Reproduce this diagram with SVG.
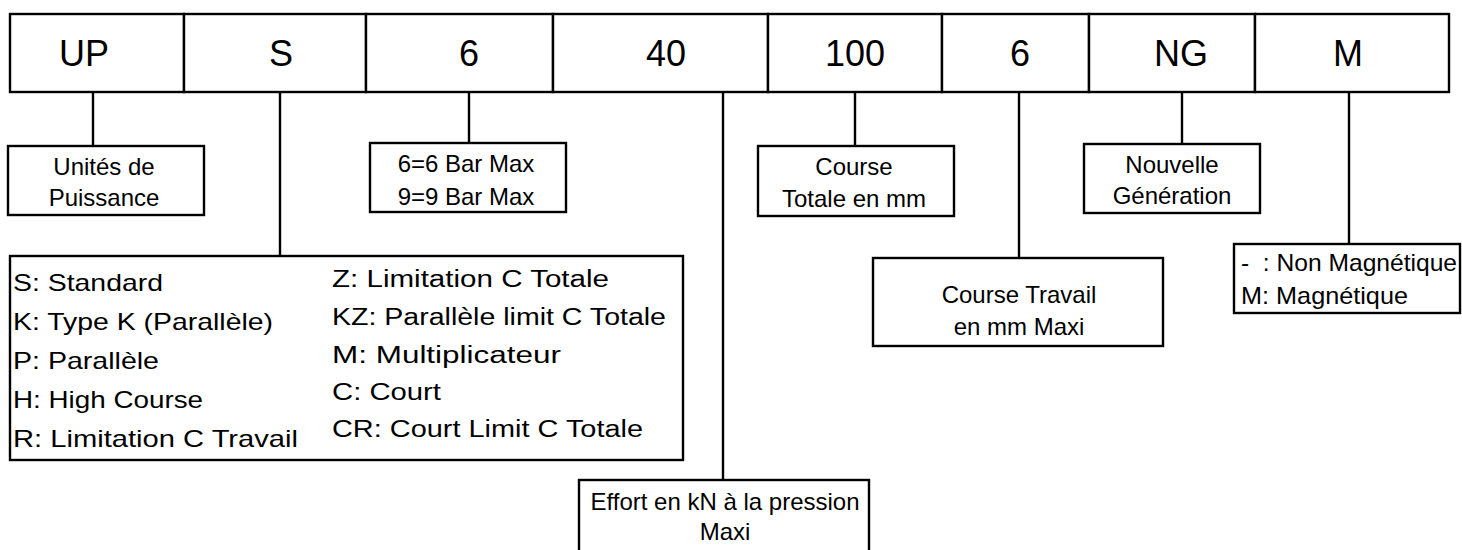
<svg xmlns="http://www.w3.org/2000/svg" width="1462" height="550" viewBox="0 0 1462 550">
<style>
.box{fill:#fff;stroke:#000;stroke-width:2.4}
text{font-family:"Liberation Sans",Arial,sans-serif;fill:#000}
.big{font-size:36px;text-anchor:middle}
.lbl{font-size:24px;text-anchor:middle}
.opt{font-size:24px}
.opt2{font-size:23px}
.conn line{stroke:#000;stroke-width:2.4}
</style>
<rect width="1462" height="550" fill="#fff"/>
<g id="connectors" class="conn">
<line x1="93" y1="92" x2="93" y2="146"/>
<line x1="280" y1="92" x2="280" y2="256"/>
<line x1="469" y1="92" x2="469" y2="143"/>
<line x1="723" y1="92" x2="723" y2="480"/>
<line x1="855" y1="92" x2="855" y2="146"/>
<line x1="1019" y1="92" x2="1019" y2="258"/>
<line x1="1182" y1="92" x2="1182" y2="144"/>
<line x1="1349" y1="92" x2="1349" y2="244"/>
</g>
<g id="cell-up"><rect class="box" x="10" y="14" width="174" height="78"/><text class="big" x="84" y="66">UP</text></g>
<g id="cell-s"><rect class="box" x="184" y="14" width="182" height="78"/><text class="big" x="281" y="66">S</text></g>
<g id="cell-6a"><rect class="box" x="366" y="14" width="187" height="78"/><text class="big" x="469" y="66">6</text></g>
<g id="cell-40"><rect class="box" x="553" y="14" width="215" height="78"/><text class="big" x="666" y="66">40</text></g>
<g id="cell-100"><rect class="box" x="768" y="14" width="174" height="78"/><text class="big" x="855" y="66">100</text></g>
<g id="cell-6b"><rect class="box" x="942" y="14" width="147" height="78"/><text class="big" x="1020" y="66">6</text></g>
<g id="cell-ng"><rect class="box" x="1089" y="14" width="166" height="78"/><text class="big" x="1181" y="66">NG</text></g>
<g id="cell-m"><rect class="box" x="1255" y="14" width="194" height="78"/><text class="big" x="1348" y="66">M</text></g>

<g id="unites"><rect class="box" x="8" y="146" width="196" height="69"/>
<text class="lbl" x="104" y="175">Unités de</text><text class="lbl" x="104" y="206">Puissance</text></g>
<g id="bar"><rect class="box" x="370" y="143" width="196" height="69"/>
<text class="lbl" x="466" y="172">6=6 Bar Max</text><text class="lbl" x="466" y="205">9=9 Bar Max</text></g>
<g id="course-totale"><rect class="box" x="758" y="146" width="196" height="70"/>
<text class="lbl" x="854" y="175">Course</text><text class="lbl" x="854" y="207">Totale en mm</text></g>
<g id="nouvelle"><rect class="box" x="1084" y="144" width="176" height="69"/>
<text class="lbl" x="1172" y="173">Nouvelle</text><text class="lbl" x="1172" y="204">Génération</text></g>
<g id="types"><rect class="box" x="10" y="256" width="673" height="204"/>
<text class="opt" x="13" y="291" textLength="150" lengthAdjust="spacingAndGlyphs">S: Standard</text>
<text class="opt" x="13" y="330" textLength="260" lengthAdjust="spacingAndGlyphs">K: Type K (Parallèle)</text>
<text class="opt" x="13" y="369" textLength="146" lengthAdjust="spacingAndGlyphs">P: Parallèle</text>
<text class="opt" x="13" y="408" textLength="190" lengthAdjust="spacingAndGlyphs">H: High Course</text>
<text class="opt" x="13" y="447" textLength="285" lengthAdjust="spacingAndGlyphs">R: Limitation C Travail</text>
<text class="opt2" x="332" y="287" textLength="277" lengthAdjust="spacingAndGlyphs">Z: Limitation C Totale</text>
<text class="opt2" x="332" y="325" textLength="334" lengthAdjust="spacingAndGlyphs">KZ: Parallèle limit C Totale</text>
<text class="opt2" x="332" y="363" textLength="229" lengthAdjust="spacingAndGlyphs">M: Multiplicateur</text>
<text class="opt2" x="332" y="400" textLength="109" lengthAdjust="spacingAndGlyphs">C: Court</text>
<text class="opt2" x="332" y="437" textLength="311" lengthAdjust="spacingAndGlyphs">CR: Court Limit C Totale</text>
</g>
<g id="effort"><rect class="box" x="579" y="480" width="290" height="85"/>
<text class="lbl" x="725" y="510">Effort en kN à la pression</text><text class="lbl" x="725" y="540">Maxi</text></g>
<g id="course-travail"><rect class="box" x="873" y="258" width="290" height="88"/>
<text class="lbl" x="1019" y="303">Course Travail</text><text class="lbl" x="1019" y="335">en mm Maxi</text></g>
<g id="magnetique"><rect class="box" x="1234" y="244" width="226" height="69"/>
<text class="opt" x="1241" y="271" xml:space="preserve" textLength="216" lengthAdjust="spacingAndGlyphs">-  : Non Magnétique</text>
<text class="opt" x="1241" y="304" textLength="167" lengthAdjust="spacingAndGlyphs">M: Magnétique</text></g>
</svg>
